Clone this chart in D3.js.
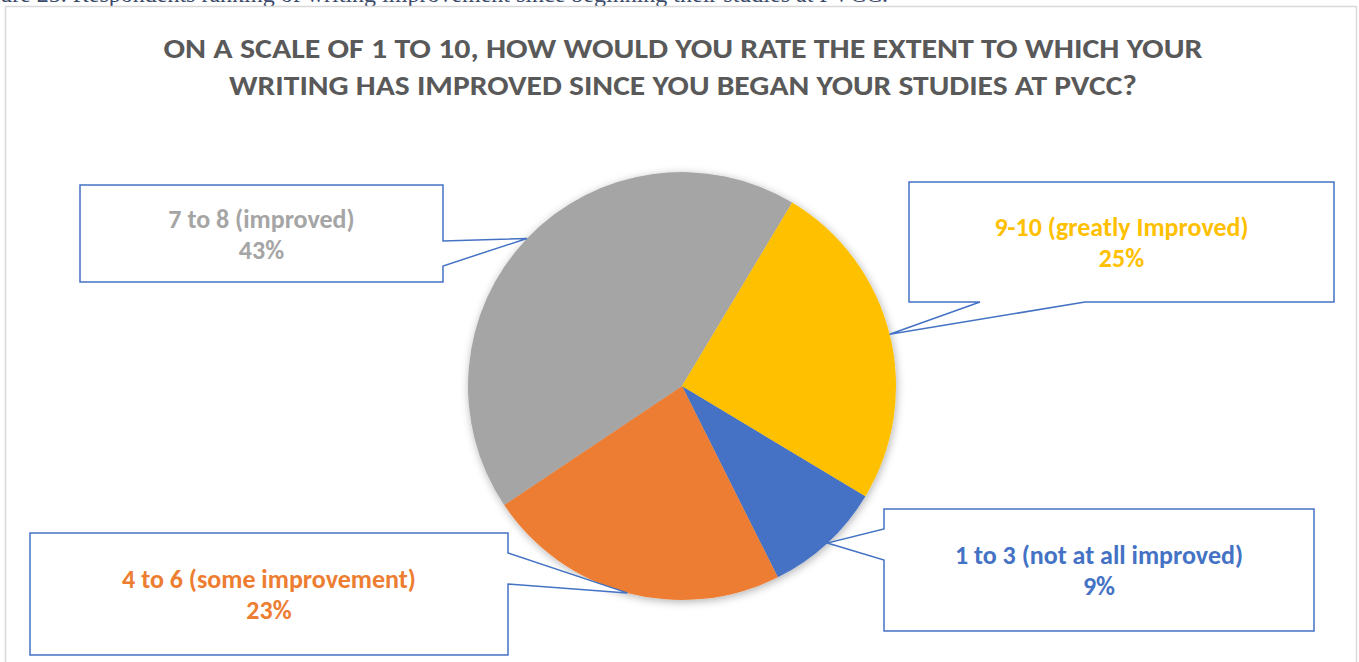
<!DOCTYPE html>
<html>
<head>
<meta charset="utf-8">
<script src="https://cdn.jsdelivr.net/npm/d3@7/dist/d3.min.js"></script>
<style>
  html, body { margin: 0; padding: 0; background: #fff; overflow: hidden; }
  svg { display: block; }
</style>
</head>
<body>
<svg id="chart" width="1359" height="662"></svg>
<script>
// Survey responses: self-rated writing improvement (share of respondents, %)
const categories = [
  "1 to 3 (not at all improved)",
  "4 to 6 (some improvement)",
  "7 to 8 (improved)",
  "9-10 (greatly Improved)"
];
const values = [9, 23, 43, 25];
const colors = ["#4472C4", "#ED7D31", "#A5A5A5", "#FFC000"];
const titleLines = [
  "ON A SCALE OF 1 TO 10, HOW WOULD YOU RATE THE EXTENT TO WHICH YOUR",
  "WRITING HAS IMPROVED SINCE YOU BEGAN YOUR STUDIES AT PVCC?"
];
const caption = "Figure 25. Respondents ranking of writing improvement since beginning their studies at PVCC.";

// Callout box geometry per slice: box rect, side the pointer leaves from, pointer base
const callouts = [
  { x: 884, y: 509, w: 430, h: 122, side: "left",   b0: 529, b1: 560 },
  { x: 30,  y: 533, w: 478, h: 122, side: "right",  b0: 553, b1: 584 },
  { x: 80,  y: 185, w: 363, h: 97,  side: "right",  b0: 241, b1: 266 },
  { x: 909, y: 182, w: 425, h: 120, side: "bottom", b0: 980, b1: 1085 }
];

const svg = d3.select("#chart");
const font = "Carlito, Calibri, Lato, 'Open Sans', sans-serif";

const defs = svg.append("defs");
const shadow = defs.append("filter").attr("id", "pieShadow")
  .attr("x", "-20%").attr("y", "-20%").attr("width", "140%").attr("height", "140%");
shadow.append("feDropShadow")
  .attr("dx", 1).attr("dy", 2).attr("stdDeviation", 4)
  .attr("flood-color", "#000").attr("flood-opacity", 0.3);

// Document caption above the chart (runs off the top edge)
svg.append("text")
  .attr("x", 888).attr("y", 2)
  .attr("text-anchor", "end")
  .attr("font-family", "'Liberation Serif', 'Times New Roman', serif")
  .attr("font-size", 24)
  .attr("fill", "#3B4A6B")
  .text(caption);

// Chart area frame
svg.append("rect")
  .attr("x", 5.5).attr("y", 6.5).attr("width", 1351).attr("height", 700)
  .attr("fill", "#fff").attr("stroke", "#D9D9D9").attr("stroke-width", 1.5);

// Title
const titleG = svg.append("g")
  .attr("font-family", font).attr("font-weight", "bold")
  .attr("fill", "#595959").attr("text-anchor", "middle");
const titleWidths = [1039, 908];
titleLines.forEach((t, i) => {
  titleG.append("text")
    .attr("x", 683).attr("y", 58 + i * 37)
    .attr("font-size", 29)
    .attr("textLength", titleWidths[i])
    .attr("lengthAdjust", "spacingAndGlyphs")
    .text(t);
});

// Pie
const cx = 682, cy = 386, r = 214;
const startDeg = 121;
const pie = d3.pie().sort(null)
  .startAngle(startDeg * Math.PI / 180)
  .endAngle((startDeg + 360) * Math.PI / 180);
const arcs = pie(values);
const arc = d3.arc().innerRadius(0).outerRadius(r);

const pieG = svg.append("g").attr("transform", `translate(${cx},${cy})`);
pieG.append("g").attr("filter", "url(#pieShadow)")
  .selectAll("path").data(arcs).join("path")
  .attr("d", arc)
  .attr("fill", (d, i) => colors[i]);

// Callouts with pointers to each slice's outer edge
function calloutPath(c, tip) {
  const x0 = c.x, y0 = c.y, x1 = c.x + c.w, y1 = c.y + c.h;
  const p = d3.path();
  p.moveTo(x0, y0);
  p.lineTo(x1, y0);
  if (c.side === "right") {
    p.lineTo(x1, c.b0); p.lineTo(tip[0], tip[1]); p.lineTo(x1, c.b1);
  }
  p.lineTo(x1, y1);
  if (c.side === "bottom") {
    p.lineTo(c.b1, y1); p.lineTo(tip[0], tip[1]); p.lineTo(c.b0, y1);
  }
  p.lineTo(x0, y1);
  if (c.side === "left") {
    p.lineTo(x0, c.b1); p.lineTo(tip[0], tip[1]); p.lineTo(x0, c.b0);
  }
  p.closePath();
  return p.toString();
}

const total = d3.sum(values);
const labelG = svg.append("g").attr("font-family", font).attr("font-weight", "bold");
arcs.forEach((d, i) => {
  const mid = (d.startAngle + d.endAngle) / 2;
  const tip = [cx + r * Math.sin(mid), cy - r * Math.cos(mid)];
  const c = callouts[i];
  labelG.append("path")
    .attr("d", calloutPath(c, tip))
    .attr("fill", "#fff")
    .attr("stroke", "#4472C4")
    .attr("stroke-width", 1.5)
    .attr("stroke-linejoin", "miter");
  const tx = c.x + c.w / 2, ty = c.y + c.h / 2;
  const t = labelG.append("text")
    .attr("text-anchor", "middle")
    .attr("font-size", 26)
    .attr("fill", colors[i]);
  t.append("tspan").attr("x", tx).attr("y", ty - 6).text(categories[i]);
  t.append("tspan").attr("x", tx).attr("y", ty + 25)
    .text(Math.round(d.data / total * 100) + "%");
});
</script>
</body>
</html>
